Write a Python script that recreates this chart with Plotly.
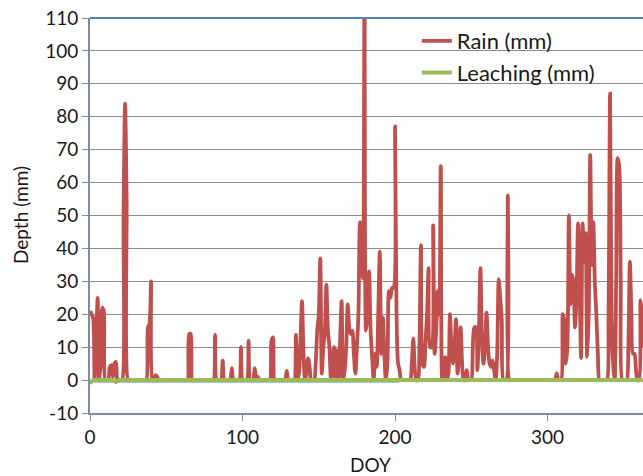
import plotly.graph_objects as go

# Daily rain (mm), DOY 0..363
rain_mm = [
    21, 20, 19, 0, 10, 25, 0, 5, 22, 21,          # 0-9
    0, 0, 0, 4, 4.5, 1, 5, 5.5, 0, 0,             # 10-19
    0, 0, 50, 84, 55, 0, 0, 0, 0, 0,              # 20-29
    0, 0, 0, 0, 0, 0, 0, 0, 16, 17,               # 30-39
    30, 0, 0, 1.5, 1, 0, 0, 0, 0, 0,              # 40-49
    0, 0, 0, 0, 0, 0, 0, 0, 0, 0,                 # 50-59
    0, 0, 0, 0, 0, 14, 14, 0, 0, 0,               # 60-69
    0, 0, 0, 0, 0, 0, 0, 0, 0, 0,                 # 70-79
    0, 0, 13.7, 0, 0, 0, 0, 5.9, 0, 0,            # 80-89
    0, 0, 0, 3.6, 0, 0, 0, 0, 0, 10,              # 90-99
    0, 0, 0, 0, 12, 0, 0, 0, 3.6, 1,              # 100-109
    1, 0, 0, 0, 0, 0, 0, 0, 0, 12,                # 110-119
    13, 0, 0, 0, 0, 0, 0, 0, 0, 2.8,              # 120-129
    0, 0, 0, 0, 0, 13.7, 0, 2, 12, 24,            # 130-139
    8, 0, 2, 6.6, 4, 0, 0, 0, 5, 15,              # 140-149
    20, 37, 2, 10, 15, 29, 15, 10, 0, 5,          # 150-159
    10, 0, 9, 0, 12, 24, 0, 3, 10, 23,            # 160-169
    16, 14, 15, 8, 2, 10, 20, 48, 40, 31,         # 170-179
    125, 15, 20, 33, 15, 7, 0, 8, 4, 20,          # 180-189
    39, 8, 19, 8, 0, 5, 27, 25, 28, 28,           # 190-199
    77, 20, 5, 3, 0, 0, 0, 0, 0, 0,               # 200-209
    0, 5, 12.7, 3, 0, 0, 10, 41, 5, 4,            # 210-219
    12, 20, 34, 10, 10, 47, 8, 15, 27, 20,        # 220-229
    65, 0, 3, 7, 0, 2, 20, 10, 5, 10,             # 230-239
    18.5, 2, 8, 16, 5, 0, 0, 3, 0, 0,             # 240-249
    0, 10, 16, 16, 3, 15, 34, 12, 5, 10,          # 250-259
    20.5, 10, 5, 4, 6, 3, 0, 8, 30.6, 25,         # 260-269
    18, 0, 0, 0, 56, 0, 0, 0, 0, 0,               # 270-279
    0, 0, 0, 0, 0, 0, 0, 0, 0, 0,                 # 280-289
    0, 0, 0, 0, 0, 0, 0, 0, 0, 0,                 # 290-299
    0, 0, 0, 0, 0, 0, 2, 0, 0, 0,                 # 300-309
    20, 18, 5, 10, 50, 23, 32, 30, 16, 25,        # 310-319
    47.6, 30, 6.7, 47.6, 36, 44.6, 7, 20, 68.4, 35,  # 320-329
    48, 30, 20, 8, 0, 0, 0, 0, 0, 0,              # 330-339
    20, 87, 20, 5, 0, 30, 67.4, 65, 30, 0,        # 340-349
    0, 0, 0, 10, 36, 20, 8, 8, 3, 0,              # 350-359
    0, 24.3, 20, 10,                              # 360-363
]
rain_doy = list(range(len(rain_mm)))

# Leaching (mm): essentially zero, small negative values at the start
leach_doy = [0, 2, 15, 17, 19, 363]
leach_mm = [-1, 0, 0, -0.6, 0, 0]

# Unlabelled blue series hidden beneath the leaching line
other_doy = [0, 203]
other_mm = [-0.4, -0.4]

x_ticks = [0, 100, 200, 300]
y_ticks = list(range(-10, 111, 10))

FONT = "Lato"
AXIS_COL = "#7D8CA3"

fig = go.Figure()
fig.add_trace(go.Scatter(
    x=other_doy, y=other_mm, mode="lines", showlegend=False,
    line=dict(color="#4F81BD", width=2), hoverinfo="skip"))
fig.add_trace(go.Scatter(
    x=rain_doy, y=rain_mm, mode="lines", name="Rain (mm)",
    line=dict(color="#C0504D", width=3.8, shape="spline", smoothing=0.8)))
fig.add_trace(go.Scatter(
    x=leach_doy, y=leach_mm, mode="lines", name="Leaching (mm)",
    line=dict(color="#9BBB59", width=4)))

fig.update_layout(
    width=643, height=476, autosize=False,
    margin=dict(l=90, r=0, t=18, b=63),
    paper_bgcolor="white", plot_bgcolor="white",
    font=dict(family=FONT, size=19, color="#1a1a1a"),
    showlegend=True,
    legend=dict(x=0.591, y=0.995, xanchor="left", yanchor="top",
                bgcolor="rgba(0,0,0,0)", font=dict(size=22, family=FONT),
                tracegroupgap=0, itemwidth=30),
    xaxis=dict(
        range=[0, 362.6], tickvals=x_ticks, ticktext=[str(v) for v in x_ticks],
        showgrid=False, zeroline=False, automargin=False,
        showline=True, linecolor=AXIS_COL, linewidth=2,
        ticks="outside", ticklen=6, tickcolor=AXIS_COL, tickwidth=1,
    ),
    yaxis=dict(
        range=[-10, 110], tickvals=y_ticks, ticktext=[str(v) for v in y_ticks],
        showgrid=True, gridcolor="#8C8C8C", gridwidth=1.3, zeroline=False,
        automargin=False,
        showline=True, linecolor=AXIS_COL, linewidth=2,
        ticks="outside", ticklen=6, tickcolor=AXIS_COL, tickwidth=1,
    ),
    shapes=[dict(type="line", xref="paper", yref="paper", x0=0, x1=1, y0=1, y1=1,
                 line=dict(color="#4F81BD", width=2), layer="above")],
    annotations=[
        dict(text="DOY", xref="paper", yref="paper", x=(370 - 90) / 553, y=0,
             yshift=-51, xanchor="center", yanchor="middle", showarrow=False,
             font=dict(size=19, family=FONT)),
        dict(text="Depth (mm)", xref="paper", yref="paper", x=0, y=(413 - 215) / 395,
             xshift=-70, xanchor="center", yanchor="middle", textangle=-90,
             showarrow=False, font=dict(size=19, family=FONT)),
    ],
)

post = (
    "document.body.style.margin='0';"
    "document.body.style.overflow='hidden';"
    "var gd=document.getElementById('{plot_id}');"
    "gd.style.width='643px';gd.style.height='476px';"
    "Plotly.relayout(gd,{width:643,height:476});"
)

fig.write_html("out.html", config={"responsive": False, "displayModeBar": False},
               post_script=post)
